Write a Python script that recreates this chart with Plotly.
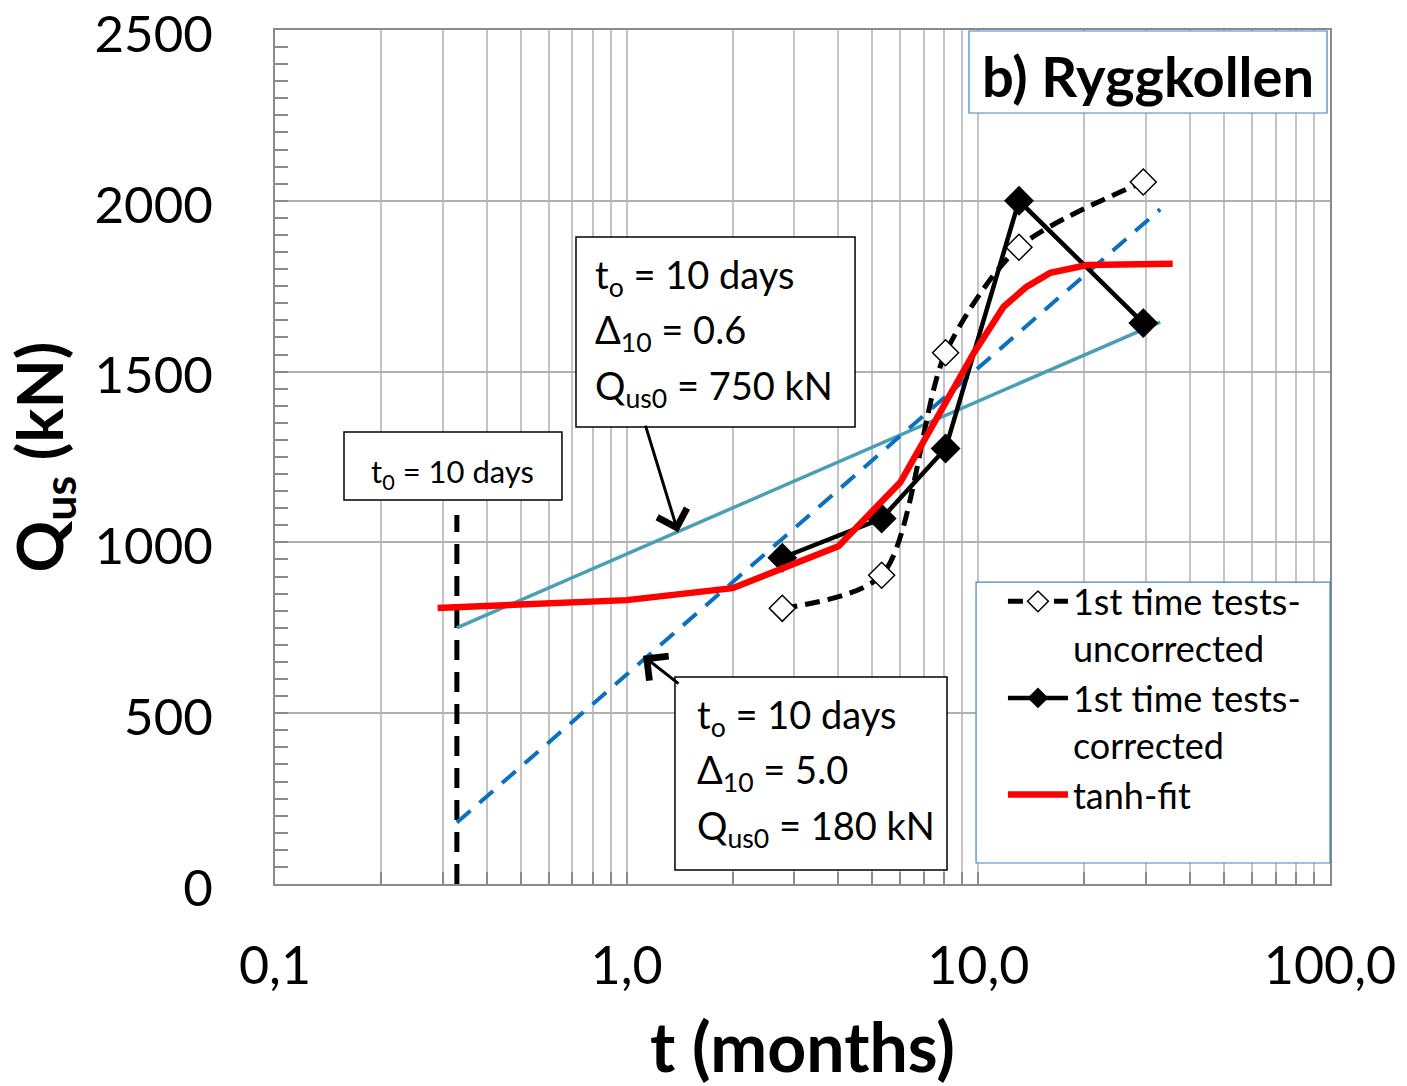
import plotly.graph_objects as go

# ---- data -------------------------------------------------------------
# reference time t0 = 10 days, expressed in months
t_ref = [0.329, 0.329]
q_ref = [0, 1080]

# straight-line predictions (start / end points)
t_pred = [0.329, 32.9]
q_pred_d06 = [750, 1645]   # Delta10 = 0.6, Qus0 = 750 kN
q_pred_d50 = [180, 1975]   # Delta10 = 5.0, Qus0 = 180 kN

# first-time tests
t_tests = [2.77, 5.31, 8.07, 13.05, 29.45]
q_uncorrected = [807, 904, 1555, 1864, 2055]
q_corrected = [955, 1070, 1275, 2000, 1642]

# tanh fit
t_fit = [0.29, 1.0, 2.0, 4.0, 6.0, 7.1, 8.0, 8.7, 9.7, 10.7, 11.8, 13.7, 16.0, 20.4, 35.7]
q_fit = [808, 831, 866, 989, 1176, 1309, 1400, 1475, 1554, 1622, 1690, 1748, 1789, 1812, 1816]

x_tickvals = [0.1, 1, 10, 100]
x_ticktext = ["0,1", "1,0", "10,0", "100,0"]
x_minor = [m * 10 ** e for e in (-1, 0, 1) for m in range(2, 10)]
y_tickvals = [0, 500, 1000, 1500, 2000, 2500]

FONT = "Lato"
GRID = "#c4c4c4"
AXIS = "#8a8a8a"
BOXBLUE = "#3a86c8"

fig = go.Figure()

fig.add_trace(go.Scatter(
    x=t_ref, y=q_ref, mode="lines", showlegend=False,
    line=dict(color="black", width=5, dash="20px,12px")))

fig.add_trace(go.Scatter(
    x=t_pred, y=q_pred_d06, mode="lines", showlegend=False,
    line=dict(color="#4a9fb6", width=3.5)))

fig.add_trace(go.Scatter(
    x=t_pred, y=q_pred_d50, mode="lines", showlegend=False,
    line=dict(color="#0a70c0", width=4, dash="18px,12px")))

fig.add_trace(go.Scatter(
    x=t_tests, y=q_uncorrected, mode="lines+markers",
    name="1st time tests-<br>uncorrected",
    line=dict(color="black", width=5, dash="15px,8px", shape="spline", smoothing=0.8),
    marker=dict(symbol="diamond", size=20, color="white",
                line=dict(color="black", width=1.5))))

fig.add_trace(go.Scatter(
    x=t_tests, y=q_corrected, mode="lines+markers",
    name="1st time tests-<br>corrected",
    line=dict(color="black", width=4.5),
    marker=dict(symbol="diamond", size=23, color="black")))

fig.add_trace(go.Scatter(
    x=t_fit, y=q_fit, mode="lines", name="tanh-fit",
    line=dict(color="#ff0000", width=6.5)))

# ---- boxes ------------------------------------------------------------
def box(x0, x1, y0, y1, color="black", width=1.5):
    fig.add_shape(type="rect", xref="paper", yref="paper",
                  x0=x0, x1=x1, y0=y0, y1=y1, layer="above",
                  fillcolor="white", line=dict(color=color, width=width))

def label(x, y, text, size=38, xanchor="left", bold=False):
    fig.add_annotation(xref="paper", yref="paper", x=x, y=y, text=text,
                       showarrow=False, xanchor=xanchor, yanchor="middle",
                       font=dict(family=FONT, size=size, color="black",
                                 weight="bold" if bold else "normal"))

# parameter box: Delta10 = 0.6
box(0.2853, 0.5498, 0.5351, 0.7576)
label(0.3015, 0.7108, "t<sub>o</sub> = 10 days")
label(0.3015, 0.6464, "Δ<sub>10</sub> = 0.6")
label(0.3015, 0.5808, "Q<sub>us0</sub> = 750 kN")

# parameter box: Delta10 = 5.0
box(0.3791, 0.6370, 0.0164, 0.2424)
label(0.3980, 0.1956, "t<sub>o</sub> = 10 days")
label(0.3980, 0.1311, "Δ<sub>10</sub> = 5.0")
label(0.3980, 0.0656, "Q<sub>us0</sub> = 180 kN")

# reference time box
box(0.0654, 0.2720, 0.4496, 0.5293)
label(0.1687, 0.4801, "t<sub>0</sub> = 10 days", size=31, xanchor="center")

# site title
box(0.6578, 0.9972, 0.9028, 0.9988, color=BOXBLUE, width=1.2)
label(0.8275, 0.9473, "b) Ryggkollen", size=56, xanchor="center", bold=True)

# legend frame
box(0.6645, 1.0, 0.0246, 0.3536, color=BOXBLUE, width=1.2)

# arrows pointing at the two prediction lines
fig.add_annotation(xref="x", yref="y", x=0.1461, y=1030, text="",
                   axref="pixel", ayref="pixel", ax=-33, ay=-108,
                   showarrow=True, arrowhead=4, arrowsize=2, arrowwidth=3,
                   arrowcolor="black")
fig.add_annotation(xref="x", yref="y", x=0.0465, y=668, text="",
                   axref="pixel", ayref="pixel", ax=37, ay=29,
                   showarrow=True, arrowhead=4, arrowsize=2, arrowwidth=3,
                   arrowcolor="black")

fig.update_layout(
    width=1407, height=1086,
    margin=dict(l=275, r=77, t=30, b=202, autoexpand=False),
    paper_bgcolor="white", plot_bgcolor="white",
    font=dict(family=FONT, color="black"),
    legend=dict(x=0.690, y=0.366, xanchor="left", yanchor="top",
                bgcolor="rgba(0,0,0,0)", borderwidth=0,
                font=dict(family=FONT, size=36, color="black"),
                valign="top", itemwidth=60, tracegroupgap=0),
)

fig.update_xaxes(
    type="log", range=[-1, 2], automargin=False,
    tickvals=x_tickvals, ticktext=x_ticktext,
    tickfont=dict(family=FONT, size=52),
    ticks="inside", ticklen=12, tickcolor=AXIS, tickwidth=1.5,
    ticklabelstandoff=36, ticklabeloverflow="allow",
    showgrid=True, gridcolor=GRID, gridwidth=1.5,
    minor=dict(tickvals=x_minor, showgrid=True, gridcolor=GRID, gridwidth=1.5,
               ticks="inside", ticklen=12, tickcolor=AXIS, tickwidth=1.5),
    showline=True, linecolor=AXIS, linewidth=2, mirror=True,
    zeroline=False,
    title=dict(text="<b>t (months)</b>", font=dict(family=FONT, size=68),
               standoff=30),
)

fig.update_yaxes(
    range=[0, 2500], tickmode="array", tickvals=y_tickvals, automargin=False,
    tickfont=dict(family=FONT, size=51),
    ticks="inside", ticklen=13, tickcolor=AXIS, tickwidth=1.5,
    ticklabelstandoff=50, ticklabelshift=4, ticklabeloverflow="allow",
    showgrid=True, gridcolor="#b0b0b0", gridwidth=1.5,
    minor=dict(dtick=50, ticks="inside", ticklen=13, tickcolor=AXIS,
               tickwidth=1.5, showgrid=False),
    showline=True, linecolor=AXIS, linewidth=2, mirror=True,
    zeroline=False,
    title=dict(text="<b>Q<sub>us</sub> (kN)</b>", font=dict(family=FONT, size=64),
               standoff=12),
)

fig.write_html("out.html")
